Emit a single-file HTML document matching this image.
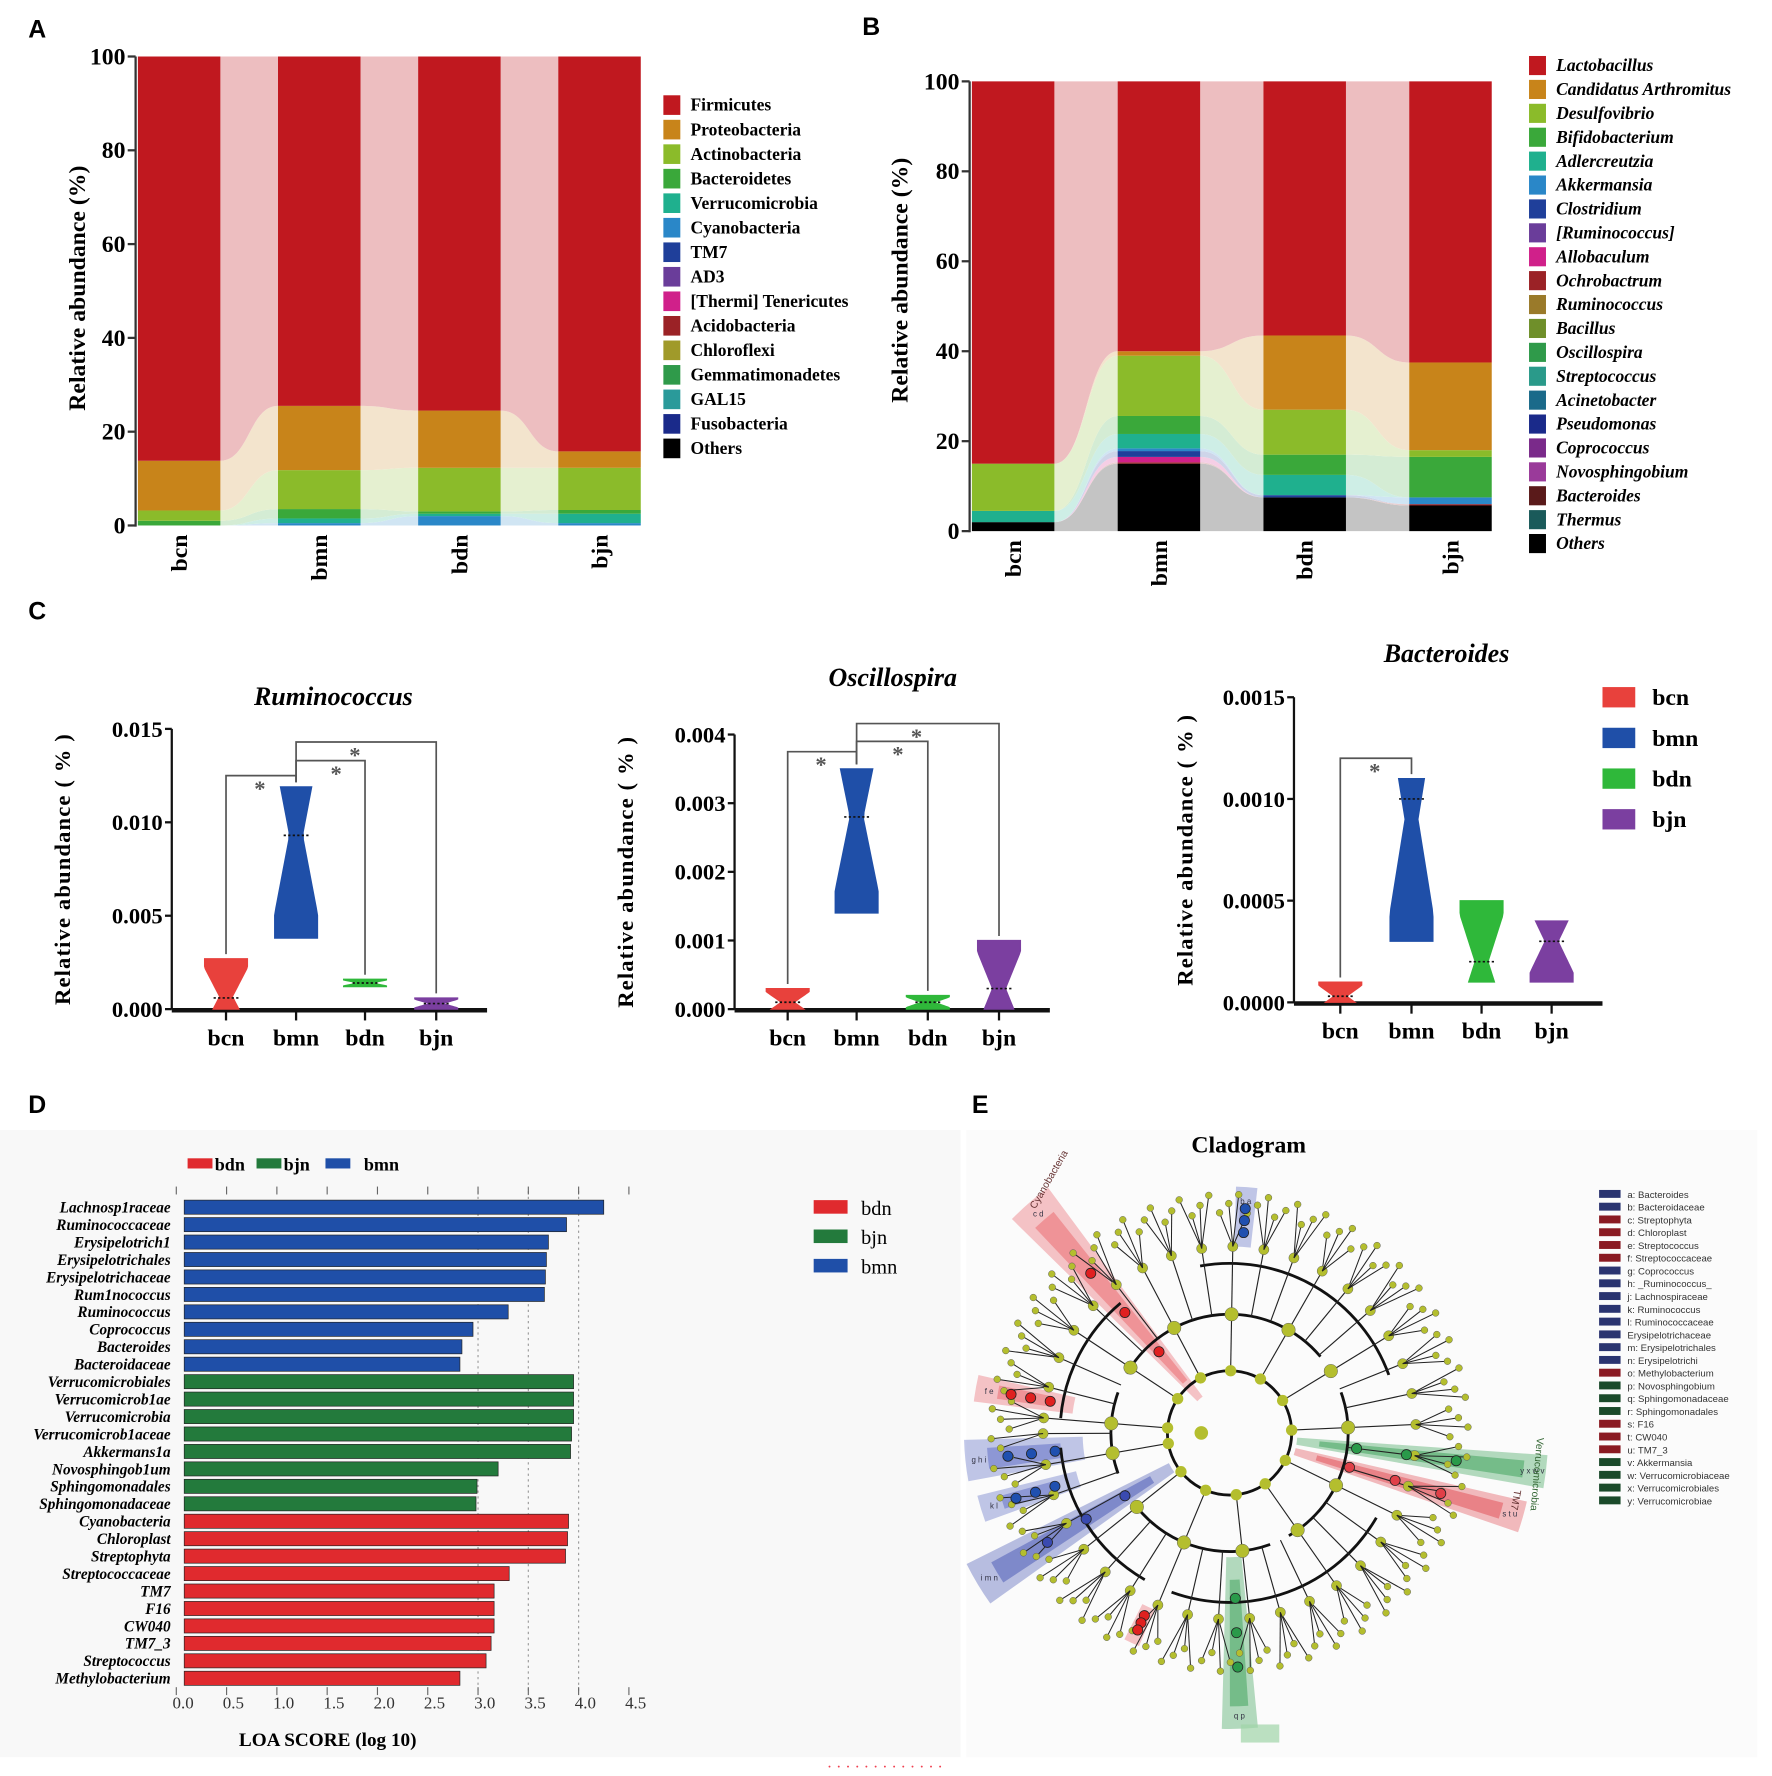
<!DOCTYPE html>
<html><head><meta charset="utf-8">
<style>
html,body{margin:0;padding:0;background:#fff;}
svg{display:block;}
text{font-family:"Liberation Serif",serif;}
.sans{font-family:"Liberation Sans",sans-serif;}
</style></head>
<body>
<svg id="fig" width="1772" height="1776" viewBox="0 0 1568 1571.6" preserveAspectRatio="none" xmlns="http://www.w3.org/2000/svg">
<rect x="0" y="0" width="1568" height="1572" fill="#fff"/>
<rect x="0" y="1000" width="850" height="555" fill="#f8f8f8"/>
<rect x="855" y="1000" width="700" height="555" fill="#fbfbfb"/>
<text x="25" y="33" font-size="22" font-weight="bold" class="sans">A</text>
<text x="763" y="31" font-size="22" font-weight="bold" class="sans">B</text>
<text x="25" y="548" font-size="22" font-weight="bold" class="sans">C</text>
<text x="25" y="985" font-size="22" font-weight="bold" class="sans">D</text>
<text x="860" y="985" font-size="22" font-weight="bold" class="sans">E</text>
<g id="gA"></g><g id="gB"></g><g id="gC"></g><g id="gD"></g><g id="gE"></g>
<text x="783" y="1568" font-size="14" fill="#f04050" text-anchor="middle">·   ·  ·   ·  ·   ·   ·   ·  ·   ·  ·   ·  ·</text>
</svg>
<script>
const NS="http://www.w3.org/2000/svg";
function mk(parent,tag,attrs,txt){const e=document.createElementNS(NS,tag);for(const k in attrs)e.setAttribute(k,attrs[k]);if(txt!==undefined)e.textContent=txt;parent.appendChild(e);return e;}
function lighten(hex,f){const n=parseInt(hex.slice(1),16);let r=n>>16,g=(n>>8)&255,b=n&255;r=Math.round(r+(255-r)*f);g=Math.round(g+(255-g)*f);b=Math.round(b+(255-b)*f);return "rgb("+r+","+g+","+b+")";}

// ---------- Panel A data ----------
const aGroups=["bcn","bmn","bdn","bjn"];
const aSeries=["Firmicutes","Proteobacteria","Actinobacteria","Bacteroidetes","Verrucomicrobia","Cyanobacteria","TM7","AD3","[Thermi] Tenericutes","Acidobacteria","Chloroflexi","Gemmatimonadetes","GAL15","Fusobacteria","Others"];
const aColors=["#c0181f","#c8841a","#8bbb2a","#3aa83a","#1fb08e","#2a87c8","#1f3f9a","#6a3d9a","#d0208a","#9b2226","#a09a2a","#2f9a4a","#2a9a9a","#1a2a8a","#000000"];
const aFirmicutes=[86.2,74.5,75.5,84.2];
const aProteobacteria=[10.6,13.7,12.2,3.5];
const aActinobacteria=[2.2,8.3,9.3,9.0];
const aBacteroidetes=[1.0,2.0,0.5,0.8];
const aVerrucomicrobia=[0.0,1.0,0.5,2.0];
const aCyanobacteria=[0.0,0.5,2.0,0.5];
const aYTicks=[0,20,40,60,80,100];

// ---------- Panel B data ----------
const bGroups=["bcn","bmn","bdn","bjn"];
const bSeries=["Lactobacillus","Candidatus Arthromitus","Desulfovibrio","Bifidobacterium","Adlercreutzia","Akkermansia","Clostridium","[Ruminococcus]","Allobaculum","Ochrobactrum","Ruminococcus","Bacillus","Oscillospira","Streptococcus","Acinetobacter","Pseudomonas","Coprococcus","Novosphingobium","Bacteroides","Thermus","Others"];
const bColors=["#c0181f","#c8841a","#8bbb2a","#3aa83a","#1fb08e","#2a87c8","#1f3f9a","#6a3d9a","#d0208a","#9b2226","#9a7a2a","#6f8f2a","#2f9a4a","#2a9a8a","#1a6a8a","#1a2a8a","#7a2a8a","#9a3a9a","#5a1a1a","#1a5a5a","#000000"];
const bLactobacillus=[85,60,56.5,62.5];
const bCandidatus=[0,1,16.5,19.5];
const bDesulfovibrio=[10.5,13.4,10,1.5];
const bBifidobacterium=[0,4,4.5,9];
const bAdlercreutzia=[2.5,3.2,4.5,0];
const bAkkermansia=[0,0.6,0,1.5];
const bClostridium=[0,1.3,0.5,0];
const bAllobaculum=[0,1.2,0,0];
const bOchrobactrum=[0,0.3,0,0.3];
const bOthers=[2,15,7.5,5.7];
const bYTicks=[0,20,40,60,80,100];

function stackChart(g,prefix,groups,series,colors,valsBySeries,x0,x1,y0,y100,barW,ticks,legend){
  const ys=v=>y0-(y0-y100)*v/100;
  const step=(x1-x0-barW)/(groups.length-1);
  const bx=i=>x0+i*step;
  const n=series.length;
  const bottoms=groups.map(()=>0);
  const stacks=[];
  for(let s=n-1;s>=0;s--){
    const vals=valsBySeries[s]||groups.map(()=>0);
    const st=groups.map((_,i)=>{const b=bottoms[i];bottoms[i]+=vals[i];return [b,bottoms[i]];});
    stacks.push({s,st});
  }
  stacks.forEach(({s,st})=>{
    const col=s===n-1?"#c4c4c4":lighten(colors[s],s===0?0.72:0.78);
    for(let i=0;i<groups.length-1;i++){
      const xa=bx(i)+barW, xb=bx(i+1), xm=(xa+xb)/2;
      const [ba,ta]=st[i],[bb,tb]=st[i+1];
      if(ta-ba<=0&&tb-bb<=0)continue;
      const d=`M${xa},${ys(ta)} C${xm},${ys(ta)} ${xm},${ys(tb)} ${xb},${ys(tb)} L${xb},${ys(bb)} C${xm},${ys(bb)} ${xm},${ys(ba)} ${xa},${ys(ba)} Z`;
      const p=mk(g,"path",{d,fill:col});
      
      
    }
  });
  stacks.forEach(({s,st})=>{
    st.forEach(([b,t],i)=>{
      if(t-b<=0)return;
      const r=mk(g,"rect",{x:bx(i),y:ys(t),width:barW,height:ys(b)-ys(t),fill:colors[s]});
      
      
    });
  });
  const ax=mk(g,"line",{x1:x0-2,y1:y100,x2:x0-2,y2:y0+1,stroke:"#333","stroke-width":2});
  
  
  ticks.forEach(t=>{
    mk(g,"line",{x1:x0-9,y1:ys(t),x2:x0-2,y2:ys(t),stroke:"#333","stroke-width":2});
    const tl=mk(g,"text",{x:x0-11,y:ys(t)+7,"font-size":21,"font-weight":"bold","text-anchor":"end"},String(t));
    
    
  });
  groups.forEach((gname,i)=>{
    const cx=bx(i)+barW/2;
    const t=mk(g,"text",{x:0,y:0,"font-size":21,"font-weight":"bold","text-anchor":"end",transform:`translate(${cx+7},${y0+8}) rotate(-90)`},gname);
    
    
  });
  series.forEach((nm,i)=>{
    const y=legend.y+i*legend.dy;
    const sw=mk(g,"rect",{x:legend.x,y:y-legend.dy*0.4,width:15,height:legend.dy*0.8,fill:colors[i]});
    
    
    const t=mk(g,"text",{x:legend.x+24,y:y+5,"font-size":legend.fs,"font-weight":"bold","font-style":legend.italic?"italic":"normal"},nm);
    
    
  });
}
const gA=document.getElementById("gA");
stackChart(gA,"a",aGroups,aSeries,aColors,[aFirmicutes,aProteobacteria,aActinobacteria,aBacteroidetes,aVerrucomicrobia,aCyanobacteria],122,567,465,50,73,aYTicks,{x:587,y:93,dy:21.7,fs:15.5,italic:false});
{const t=mk(gA,"text",{x:0,y:0,"font-size":21,"font-weight":"bold","text-anchor":"middle",transform:"translate(75,255) rotate(-90)"},"Relative abundance (%)");

}
const gB=document.getElementById("gB");
const bVals=[bLactobacillus,bCandidatus,bDesulfovibrio,bBifidobacterium,bAdlercreutzia,bAkkermansia,bClostridium,null,bAllobaculum,bOchrobactrum,null,null,null,null,null,null,null,null,null,null,bOthers];
stackChart(gB,"b",bGroups,bSeries,bColors,bVals,860,1320,470,72,73,bYTicks,{x:1353,y:58,dy:21.15,fs:15.5,italic:true});
{const t=mk(gB,"text",{x:0,y:0,"font-size":21,"font-weight":"bold","text-anchor":"middle",transform:"translate(803,248) rotate(-90)"},"Relative abundance (%)");

}

// ---------- Panel C data ----------
const cGroups=["bcn","bmn","bdn","bjn"];
const cColors=["#e8413c","#1f4fa8","#2fb83a","#7b3fa0"];
const rumMin=[0,0.0038,0.0012,0];
const rumMax=[0.0027,0.0119,0.0016,0.0006];
const rumMed=[0.0006,0.0093,0.0014,0.0003];
const rumTicks=[0,0.005,0.010,0.015];
const oscMin=[0,0.0014,0,0];
const oscMax=[0.0003,0.0035,0.0002,0.001];
const oscMed=[0.0001,0.0028,0.0001,0.0003];
const oscTicks=[0,0.001,0.002,0.003,0.004];
const bacMin=[0,0.0003,0.0001,0.0001];
const bacMax=[0.0001,0.0011,0.0005,0.0004];
const bacMed=[0.00003,0.0010,0.0002,0.0003];
const bacTicks=[0,0.0005,0.0010,0.0015];
const rumBrackets=[[0,1,0.0125],[1,2,0.0133],[1,3,0.0143]];
const oscBrackets=[[0,1,0.00375],[1,2,0.0039],[1,3,0.00416]];
const bacBrackets=[[0,1,0.00120]];

const gC=document.getElementById("gC");
function violinPlot(name,title,titleX,titleY,axX,y0,yTop,vmax,ticks,dec,xs,mins,maxs,meds,brackets){
  const ys=v=>y0-(y0-yTop)*v/vmax;
  const tt=mk(gC,"text",{x:titleX,y:titleY,"font-size":23,"font-weight":"bold","font-style":"italic","text-anchor":"middle"},title);
  
  
  const ya=mk(gC,"line",{x1:axX,y1:ys(vmax),x2:axX,y2:y0,stroke:"#111","stroke-width":2});
  
  
  const xa=mk(gC,"line",{x1:axX,y1:y0+1,x2:xs[3]+45,y2:y0+1,stroke:"#111","stroke-width":4});
  
  
  ticks.forEach(t=>{
    mk(gC,"line",{x1:axX-6,y1:ys(t),x2:axX,y2:ys(t),stroke:"#111","stroke-width":2});
    const l=mk(gC,"text",{x:axX-8,y:ys(t)+7,"font-size":20,"font-weight":"bold","text-anchor":"end"},t.toFixed(dec));
    
    
  });
  cGroups.forEach((gname,i)=>{
    mk(gC,"line",{x1:xs[i],y1:y0+2,x2:xs[i],y2:y0+10,stroke:"#111","stroke-width":2});
    const l=mk(gC,"text",{x:xs[i],y:y0+32,"font-size":21,"font-weight":"bold","text-anchor":"middle"},gname);
    
    
    const ytop=ys(maxs[i]),ybot=ys(mins[i]);
    const hw=19, neck=(meds[i]-mins[i])/(maxs[i]-mins[i]||1);
    const nk=1-Math.min(Math.max(0.5-(neck-0.5),0.25),0.75);
    const L=[],R=[];
    for(let k=0;k<=20;k++){
      const t=k/20;const y=ybot+(ytop-ybot)*t;
      const w=hw*(0.3+0.7*Math.min(1,Math.abs(t-nk)/Math.max(nk,1-nk)*1.3));
      L.push([xs[i]-w,y]);R.push([xs[i]+w,y]);
    }
    const pts=L.concat(R.reverse()).map(p=>p.join(",")).join(" ");
    const v=mk(gC,"polygon",{points:pts,fill:cColors[i],stroke:cColors[i],"stroke-width":1});
    
    
    const md=mk(gC,"line",{x1:xs[i]-11,y1:ys(meds[i]),x2:xs[i]+11,y2:ys(meds[i]),stroke:"#111","stroke-width":1.5,"stroke-dasharray":"2,2"});
    
    
  });
  brackets.forEach(([a,b,v])=>{
    const y=ys(v);
    const d=`M${xs[a]},${ys(maxs[a])-4} L${xs[a]},${y} L${xs[b]},${y} L${xs[b]},${ys(maxs[b])-4}`;
    const p=mk(gC,"path",{d,fill:"none",stroke:"#555","stroke-width":1.5});
    
    
    const s=mk(gC,"text",{x:(xs[a]+xs[b])/2+(a===0?-1:-15*(b-a)+20),y:y+18,"font-size":20,"font-weight":"bold","fill":"#555","text-anchor":"middle"},"*");
    
    
  });
  const yt=mk(gC,"text",{x:0,y:0,"font-size":20,"font-weight":"bold","text-anchor":"middle",transform:`translate(${axX-90},${(y0+ys(vmax))/2}) rotate(-90)`,"letter-spacing":"1"},"Relative abundance ( % )");
  
  
}
violinPlot("ruminococcus","Ruminococcus",295,624,152,893,645,0.015,rumTicks,3,[200,262,323,386],rumMin,rumMax,rumMed,rumBrackets);
violinPlot("oscillospira","Oscillospira",790,607,650,893,650,0.004,oscTicks,3,[697,758,821,884],oscMin,oscMax,oscMed,oscBrackets);
violinPlot("bacteroides","Bacteroides",1280,586,1145,887,617,0.0015,bacTicks,4,[1186,1249,1311,1373],bacMin,bacMax,bacMed,bacBrackets);
cGroups.forEach((gname,i)=>{
  const y=617+i*36;
  const r=mk(gC,"rect",{x:1418,y:y-9,width:29,height:18,fill:cColors[i]});
  
  
  const t=mk(gC,"text",{x:1462,y:y+7,"font-size":21,"font-weight":"bold"},gname);
  
  
});

// ---------- Panel D data ----------
const dTaxa=["Lachnosp1raceae","Ruminococcaceae","Erysipelotrich1","Erysipelotrichales","Erysipelotrichaceae","Rum1nococcus","Ruminococcus","Coprococcus","Bacteroides","Bacteroidaceae","Verrucomicrobiales","Verrucomicrob1ae","Verrucomicrobia","Verrucomicrob1aceae","Akkermans1a","Novosphingob1um","Sphingomonadales","Sphingomonadaceae","Cyanobacteria","Chloroplast","Streptophyta","Streptococcaceae","TM7","F16","CW040","TM7_3","Streptococcus","Methylobacterium"];
const dScores=[4.25,3.88,3.70,3.68,3.67,3.66,3.30,2.95,2.84,2.82,3.95,3.95,3.95,3.93,3.92,3.20,2.99,2.98,3.90,3.89,3.87,3.31,3.16,3.16,3.16,3.13,3.08,2.82];
const dGroup=["bmn","bmn","bmn","bmn","bmn","bmn","bmn","bmn","bmn","bmn","bjn","bjn","bjn","bjn","bjn","bjn","bjn","bjn","bdn","bdn","bdn","bdn","bdn","bdn","bdn","bdn","bdn","bdn"];
const dTicks=[0,0.5,1,1.5,2,2.5,3,3.5,4,4.5];
const dGridLines=[3.0,3.5,4.0];
const dColorMap={bdn:"#e02a2e",bjn:"#237a3c",bmn:"#1f4fa8"};
const gD=document.getElementById("gD");
const dx=v=>156+89*v;
const dy=i=>1068+i*15.44;
dGridLines.forEach(v=>{const l=mk(gD,"line",{x1:dx(v),y1:1054,x2:dx(v),y2:1496,stroke:"#999","stroke-width":1,"stroke-dasharray":"2,3"});

});
dTicks.forEach(v=>{
  mk(gD,"line",{x1:dx(v),y1:1050,x2:dx(v),y2:1057,stroke:"#666","stroke-width":1});
  mk(gD,"line",{x1:dx(v),y1:1493,x2:dx(v),y2:1500,stroke:"#666","stroke-width":1});
  const t=mk(gD,"text",{x:dx(v)+6,y:1512,"font-size":15,"fill":"#333","text-anchor":"middle"},v.toFixed(1));
  
  
});
dTaxa.forEach((nm,i)=>{
  const r=mk(gD,"rect",{x:dx(0)+7,y:dy(i)-6,width:dx(dScores[i])-dx(0)-7,height:12.5,fill:dColorMap[dGroup[i]],stroke:"#222","stroke-width":0.6});
  
  
  const t=mk(gD,"text",{x:151,y:dy(i)+5,"font-size":13.5,"font-weight":"bold","font-style":"italic","text-anchor":"end"},nm);
  
  
});
{const t=mk(gD,"text",{x:290,y:1545,"font-size":17,"font-weight":"bold","text-anchor":"middle"},"LOA SCORE  (log 10)");

}
const dLegend=["bdn","bjn","bmn"];
const dLegX=[166,227,288];
dLegend.forEach((g,i)=>{
  const r=mk(gD,"rect",{x:dLegX[i],y:1025,width:22,height:9,fill:dColorMap[g]});
  
  
  const t=mk(gD,"text",{x:dLegX[i]+(i===2?34:24),y:1036,"font-size":16,"font-weight":"bold"},g);
  
  
  const r2=mk(gD,"rect",{x:720,y:1062+i*26,width:30,height:12,fill:dColorMap[g]});
  
  
  const t2=mk(gD,"text",{x:762,y:1075+i*26,"font-size":18},g);
  
  
});

// ---------- Panel E: cladogram ----------
const gE=document.getElementById("gE");
{const t=mk(gE,"text",{x:1105,y:1020,"font-size":21,"font-weight":"bold","text-anchor":"middle"},"Cladogram");

}
const CX=1088,CY=1268;
const P=(r,a)=>[CX+r*Math.cos(a*Math.PI/180),CY+r*Math.sin(a*Math.PI/180)];
const cladeAngles=[-131,-86,-170,174,163,149,115,88,7,16];
const cladeR0=[40,165,140,130,140,60,170,110,60,60];
const cladeR1=[270,218,228,235,230,260,205,262,282,270];
const cladeW=[9,5,6,9,6,9,4,7,6,6];
const cladeCol=["#e85a60","#5060c0","#e85a60","#5060c0","#5060c0","#3a4ab0","#e85a60","#2a9a4a","#2a9a4a","#e04048"];
const cladeLetters=["c d","b a","f e","g h i","k l","i m n","o","q p","y x w v","s t u"];
function sector(r0,r1,a,w){const [x1,y1]=P(r0,a-w/2),[x2,y2]=P(r1,a-w/2),[x3,y3]=P(r1,a+w/2),[x4,y4]=P(r0,a+w/2);
return `M${x1},${y1} L${x2},${y2} A${r1},${r1} 0 0 1 ${x3},${y3} L${x4},${y4} A${r0},${r0} 0 0 0 ${x1},${y1} Z`;}
cladeAngles.forEach((a,i)=>{
  const p=mk(gE,"path",{d:sector(cladeR0[i],cladeR1[i],a,cladeW[i]),fill:cladeCol[i],opacity:0.35});
  
  
  const p2=mk(gE,"path",{d:sector(cladeR0[i]+20,cladeR1[i]-20,a,cladeW[i]*0.55),fill:cladeCol[i],opacity:0.45});
  
  
  const [lx,ly]=P(cladeR1[i]-12,a);
  const t=mk(gE,"text",{x:lx,y:ly+3,"font-size":7,"fill":"#334","text-anchor":"middle",class:"sans"},cladeLetters[i]);
  
  
});
const leafCount=150, node="#b4be2e";
const ring=mk(gE,"circle",{cx:CX,cy:CY,r:55,fill:"none",stroke:"#111","stroke-width":2.5});


const arcs=[[-150,-40,105],[-20,60,105],[70,140,105],[160,200,105],[-100,-20,150],[30,110,150],[120,175,150],[185,230,150]];
arcs.forEach(([a0,a1,r])=>{const [x0,y0]=P(r,a0),[x1,y1]=P(r,a1);
const p=mk(gE,"path",{d:`M${x0},${y0} A${r},${r} 0 ${a1-a0>180?1:0} 1 ${x1},${y1}`,fill:"none",stroke:"#111","stroke-width":2.5});

});
for(let i=0;i<leafCount;i++){
  const a=-180+i*360/leafCount+1;
  const fam=Math.floor(i/4), fa=-180+(fam*4+1.5)*360/leafCount+1;
  const rLeaf=195+((i*7)%3)*8;
  const [x0,y0]=P(165,fa),[x1,y1]=P(rLeaf,a);
  mk(gE,"line",{x1:x0,y1:y0,x2:x1,y2:y1,stroke:"#222","stroke-width":0.9});
  const c=mk(gE,"circle",{cx:x1,cy:y1,r:3,fill:node,stroke:"#555","stroke-width":0.4});
  
  
  if(i%4===0){
    const [xa,ya]=P(105,fa),[xb,yb]=P(165,fa);
    mk(gE,"line",{x1:xa,y1:ya,x2:xb,y2:yb,stroke:"#222","stroke-width":1});
    const n=mk(gE,"circle",{cx:xb,cy:yb,r:4.5,fill:node,stroke:"#555","stroke-width":0.4});
    
    
  }
  if(i%12===0){
    const [xa,ya]=P(55,fa),[xb,yb]=P(105,fa);
    mk(gE,"line",{x1:xa,y1:ya,x2:xb,y2:yb,stroke:"#222","stroke-width":1});
    const n=mk(gE,"circle",{cx:xb,cy:yb,r:6,fill:node,stroke:"#555","stroke-width":0.4});
    
    
    const [xc,yc]=P(55,fa);
    const n2=mk(gE,"circle",{cx:xc,cy:yc,r:5,fill:node});
    
    
  }
}
{const n=mk(gE,"circle",{cx:CX-25,cy:CY,r:6,fill:node});

}
cladeAngles.forEach((a,i)=>{
  [0.3,0.55,0.8].forEach(f=>{
    const r=cladeR0[i]+(cladeR1[i]-cladeR0[i])*f*0.8;
    if(r>215)return;
    const [x,y]=P(r,a);
    const n=mk(gE,"circle",{cx:x,cy:y,r:4.5,fill:cladeCol[i].replace("#e85a60","#e02020").replace("#5060c0","#2050b0"),stroke:"#222","stroke-width":0.7});
    
    
  });
});
{const t=mk(gE,"text",{x:0,y:0,"font-size":9,fill:"#633",class:"sans",transform:`translate(${P(262,-131)[0]},${P(262,-131)[1]}) rotate(-60)`},"Cyanobacteria");


const t2=mk(gE,"text",{x:0,y:0,"font-size":9,fill:"#363",class:"sans",transform:`translate(1360,1272) rotate(95)`},"Verrucomicrobia");


const t3=mk(gE,"text",{x:0,y:0,"font-size":9,fill:"#633",class:"sans",transform:`translate(1340,1318) rotate(100)`},"TM7");


const j=mk(gE,"rect",{x:1098,y:1526,width:34,height:16,fill:"#9fd4a8",opacity:0.7});

}
const eLegend=["a: Bacteroides","b: Bacteroidaceae","c: Streptophyta","d: Chloroplast","e: Streptococcus","f: Streptococcaceae","g: Coprococcus","h: _Ruminococcus_","j: Lachnospiraceae","k: Ruminococcus","l: Ruminococcaceae","   Erysipelotrichaceae","m: Erysipelotrichales","n: Erysipelotrichi","o: Methylobacterium","p: Novosphingobium","q: Sphingomonadaceae","r: Sphingomonadales","s: F16","t: CW040","u: TM7_3","v: Akkermansia","w: Verrucomicrobiaceae","x: Verrucomicrobiales","y: Verrucomicrobiae"];
const eLegendCol=["n","n","r","r","r","r","n","n","n","n","n","n","n","n","r","g","g","g","r","r","r","g","g","g","g"];
const eCols={n:"#2a3470",r:"#8a1a22",g:"#1a4a2a"};
eLegend.forEach((t,i)=>{
  const y=1057+i*11.3;
  const r=mk(gE,"rect",{x:1415,y:y-4,width:19,height:7,fill:eCols[eLegendCol[i]]});
  
  
  const tx=mk(gE,"text",{x:1440,y:y+3,"font-size":8.5,fill:"#333",class:"sans"},t);
  
  
});
</script>
</body></html>
